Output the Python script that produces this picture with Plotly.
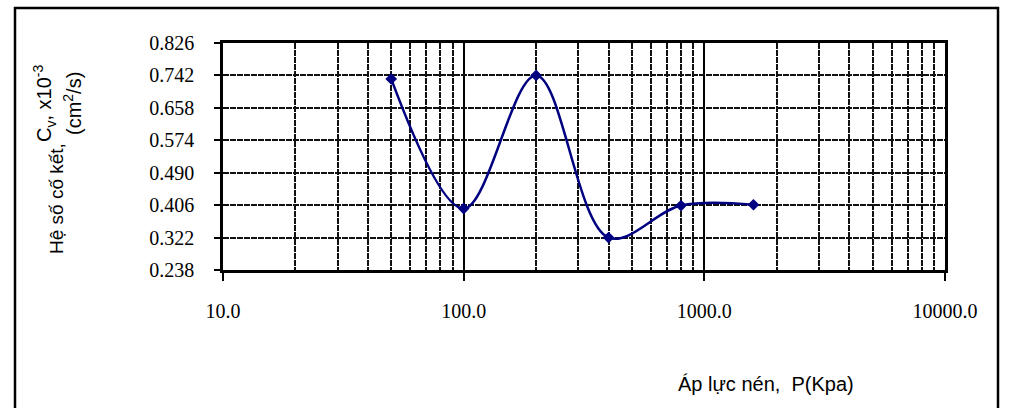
import plotly.graph_objects as go

# ---- data ----
pressure_kpa = [50, 100, 200, 400, 800, 1600]
cv_values = [0.733, 0.397, 0.742, 0.322, 0.405, 0.407]
y_tick_vals = [0.238, 0.322, 0.406, 0.490, 0.574, 0.658, 0.742, 0.826]
y_tick_text = ["0.238", "0.322", "0.406", "0.490", "0.574", "0.658", "0.742", "0.826"]
x_tick_vals = [10, 100, 1000, 10000]
x_tick_text = ["10.0", "100.0", "1000.0", "10000.0"]
x_minor_vals = [m * 10 ** e for e in (1, 2, 3) for m in range(2, 10)]

W, H = 1011, 408
L, R, T, B = 223, 945, 43, 270
pw, ph = R - L, B - T

def px(x):
    return (x - L) / pw

def py(y):
    return (B - y) / ph

fig = go.Figure()
fig.add_trace(go.Scatter(
    x=pressure_kpa, y=cv_values, mode="lines+markers",
    line=dict(color="#000080", width=2.5, shape="spline", smoothing=1.0),
    marker=dict(symbol="diamond", size=9, color="#000080"),
    showlegend=False, cliponaxis=False,
))

grid_dash = "6px,1px"
fig.update_layout(
    width=W, height=H,
    margin=dict(l=L, r=W - R, t=T, b=H - B, pad=0),
    paper_bgcolor="white", plot_bgcolor="white",
    font=dict(family="Times New Roman", size=20, color="black"),
    xaxis=dict(
        type="log", range=[1, 4],
        tickvals=x_tick_vals, ticktext=x_tick_text,
        ticks="outside", ticklen=8, tickwidth=1.5, tickcolor="black",
        showline=True, linecolor="black", linewidth=2.5, mirror=True,
        showgrid=True, gridcolor="black", gridwidth=2,
        minor=dict(tickvals=x_minor_vals, showgrid=True, gridcolor="#111111",
                   gridwidth=2, griddash=grid_dash, ticks=""),
        ticklabelstandoff=13, zeroline=False,
    ),
    yaxis=dict(
        range=[0.238, 0.826],
        tickvals=y_tick_vals, ticktext=y_tick_text,
        ticks="outside", ticklen=6, tickwidth=1.5, tickcolor="black",
        showline=True, linecolor="black", linewidth=2.5, mirror=True,
        showgrid=True, gridcolor="#111111", gridwidth=2, griddash=grid_dash,
        ticklabelstandoff=16, zeroline=False,
    ),
)

# outer border
fig.add_shape(type="rect", xref="paper", yref="paper",
              x0=px(15), x1=px(998), y0=py(430), y1=py(8),
              line=dict(color="black", width=2.5), layer="below")

afont = dict(family="Arial", size=19, color="black")
fig.add_annotation(xref="paper", yref="paper", x=px(56), y=py(199),
                   text="Hệ số cố kết,", textangle=-90, showarrow=False,
                   font=afont, xanchor="center", yanchor="middle")
fig.add_annotation(xref="paper", yref="paper", x=px(44), y=py(104),
                   text="C<sub>v</sub>, x10<sup>-3</sup>", textangle=-90, showarrow=False,
                   font=dict(family="Arial", size=20, color="black"),
                   xanchor="center", yanchor="middle")
fig.add_annotation(xref="paper", yref="paper", x=px(72), y=py(104),
                   text="(cm<sup>2</sup>/s)", textangle=-90, showarrow=False,
                   font=dict(family="Arial", size=20, color="black"),
                   xanchor="center", yanchor="middle")
fig.add_annotation(xref="paper", yref="paper", x=px(766), y=py(384),
                   text="Áp lực nén,  P(Kpa)", showarrow=False,
                   font=dict(family="Arial", size=20, color="black"),
                   xanchor="center", yanchor="middle")

fig.write_html("out.html", config={"displayModeBar": False},
               post_script="document.body.style.margin='0';")
